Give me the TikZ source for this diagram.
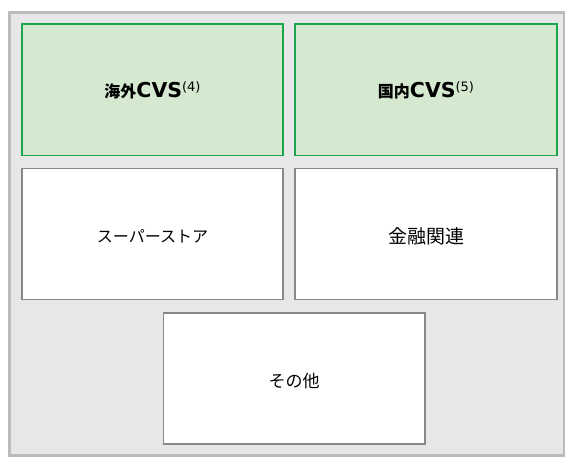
\documentclass[tikz,border=0pt]{standalone}
\usepackage{fontspec}
\setmainfont{Noto Sans CJK JP}
\newfontfamily\latinf{DejaVu Sans}
\definecolor{outerfill}{HTML}{E7E7E7}
\definecolor{outerline}{HTML}{BBBBBB}
\definecolor{greenfill}{HTML}{D5E8D0}
\definecolor{greenline}{HTML}{1BA64E}
\definecolor{boxline}{HTML}{888888}
\tikzset{
  greenbox/.style={draw=greenline, fill=greenfill, line width=1.3pt},
  whitebox/.style={draw=boxline, fill=white, line width=1.3pt},
  lbl/.style={font=\fontsize{17}{19}\selectfont, inner sep=0pt, anchor=base},
}
\newcommand{\hdr}[2]{{\fontsize{16}{18}\selectfont\bfseries #1}{\latinf\bfseries\fontsize{20.5}{22}\selectfont CVS}\raisebox{6pt}{\fontsize{13}{14}\selectfont\latinf (#2)}}
\begin{document}
\begin{tikzpicture}[x=1pt,y=-1pt]
\useasboundingbox (0,0) rectangle (565,461);
\draw[fill=outerfill, draw=outerline, line width=3pt] (9.5,12.5) rectangle (564,455.5);
\draw[greenbox] (22,24) rectangle (283,155.5);
\draw[greenbox] (295,24) rectangle (557,155.5);
\draw[whitebox] (22,168.5) rectangle (283,299.5);
\draw[whitebox] (295,168.5) rectangle (557,299.5);
\draw[whitebox] (163.5,313) rectangle (425,444);
\node[lbl] (g1) at (152.5,97) {\hdr{海外}{4}};
\node[lbl] (g2) at (426,97) {\hdr{国内}{5}};
\node[lbl, font=\fontsize{16}{18}\selectfont] (w1) at (152.5,242.5) {スーパーストア};
\node[lbl, font=\fontsize{19}{21}\selectfont] (w2) at (426,243) {金融関連};
\node[lbl] (w3) at (294,387) {その他};
\end{tikzpicture}
\end{document}
